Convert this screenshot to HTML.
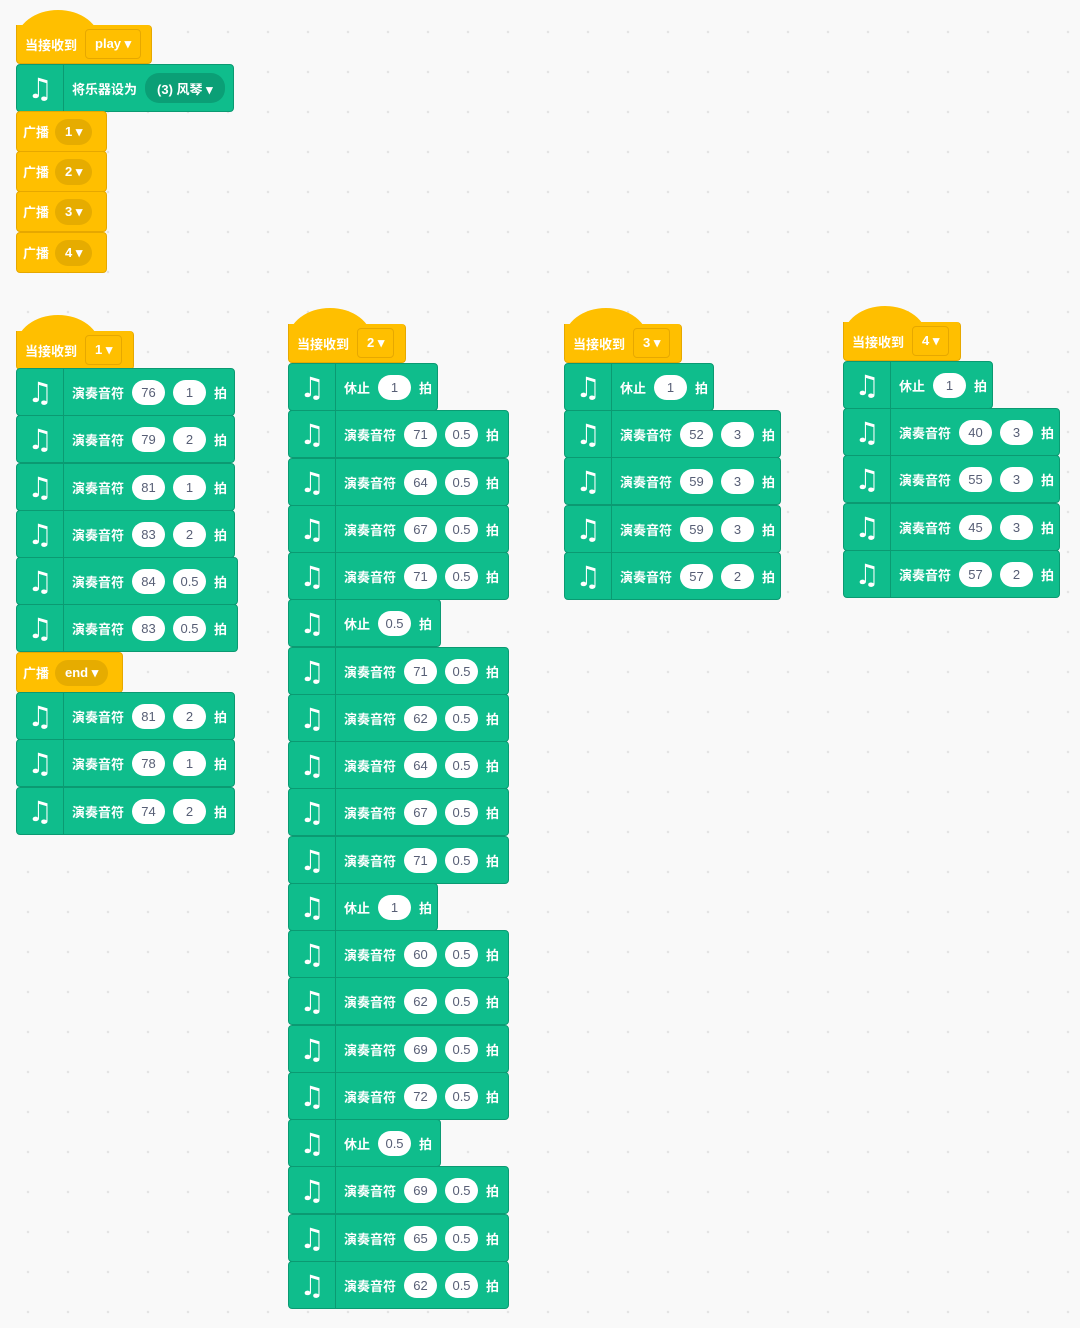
<!DOCTYPE html>
<html><head><meta charset="utf-8"><style>
html,body{margin:0;padding:0}
body{width:1080px;height:1328px;position:relative;overflow:hidden;background:#f9f9f9;background-image:radial-gradient(circle,#e4e4e4 1px,transparent 1.5px);background-size:40px 40px;background-position:8px 12px;font-family:"Liberation Sans","Noto Sans CJK SC",sans-serif;font-weight:bold;font-size:13px}
.g{position:absolute;height:46px;background:#0fbd8c;border:1px solid #0b9a72;border-radius:4px;display:flex;align-items:center;color:#fff;box-sizing:content-box}
.ic{width:46px;height:100%;border-right:1px solid #0b9a72;display:flex;align-items:center;justify-content:center;font-size:28px;font-weight:normal;font-family:"DejaVu Sans",sans-serif;flex:none}
.l{margin-left:8px;white-space:nowrap}
.p{margin-left:8px;background:#fff;color:#575e75;border-radius:13px;height:25px;min-width:33px;padding:0 4px;box-sizing:border-box;display:flex;align-items:center;justify-content:center;font-weight:normal;font-size:13px}
.b{margin-left:8px}
.y{position:absolute;height:39px;background:#ffbf00;border:1px solid #e6a800;border-radius:4px;display:flex;align-items:center;color:#fff}
.yd{margin-left:6px;background:#e6ac00;border-radius:13px;height:26px;padding:0 10px;display:flex;align-items:center;color:#fff}
.h{position:absolute;height:38px;background:#ffbf00;border:1px solid #e6a800;border-top:none;border-radius:0 4px 4px 4px;display:flex;align-items:center;color:#fff}
.cap{position:absolute;height:32px;background:#ffbf00;border-radius:50% 50% 0 0/100% 100% 0 0}
.hd{margin-left:8px;border:1px solid #e6a800;border-radius:4px;height:28px;padding:0 9px;display:flex;align-items:center}
.gd{margin-left:8px;background:#0b9f76;border-radius:14px;height:30px;padding:0 12px;display:flex;align-items:center}
</style></head><body>

<!-- top stack -->
<div class="cap" style="left:16px;top:10px;width:84px"></div>
<div class="h" style="left:16px;top:25px;width:134px"><span class="l">当接收到</span><span class="hd">play ▾</span></div>
<div class="g" style="left:16px;top:64px;width:216px"><span class="ic">♫</span><span class="l">将乐器设为</span><span class="gd">(3) 风琴 ▾</span></div>
<div class="y" style="left:16px;top:111px;width:89px"><span class="l" style="margin-left:6px">广播</span><span class="yd">1 ▾</span></div>
<div class="y" style="left:16px;top:151px;width:89px"><span class="l" style="margin-left:6px">广播</span><span class="yd">2 ▾</span></div>
<div class="y" style="left:16px;top:191px;width:89px"><span class="l" style="margin-left:6px">广播</span><span class="yd">3 ▾</span></div>
<div class="y" style="left:16px;top:232px;width:89px"><span class="l" style="margin-left:6px">广播</span><span class="yd">4 ▾</span></div>

<!-- column 1 -->
<div class="cap" style="left:16px;top:315px;width:84px"></div>
<div class="h" style="left:16px;top:331px;width:116px"><span class="l">当接收到</span><span class="hd">1 ▾</span></div>
<div class="g" style="left:16px;top:368px;width:217px"><span class="ic">♫</span><span class="l">演奏音符</span><span class="p">76</span><span class="p">1</span><span class="b">拍</span></div>
<div class="g" style="left:16px;top:415px;width:217px"><span class="ic">♫</span><span class="l">演奏音符</span><span class="p">79</span><span class="p">2</span><span class="b">拍</span></div>
<div class="g" style="left:16px;top:463px;width:217px"><span class="ic">♫</span><span class="l">演奏音符</span><span class="p">81</span><span class="p">1</span><span class="b">拍</span></div>
<div class="g" style="left:16px;top:510px;width:217px"><span class="ic">♫</span><span class="l">演奏音符</span><span class="p">83</span><span class="p">2</span><span class="b">拍</span></div>
<div class="g" style="left:16px;top:557px;width:220px"><span class="ic">♫</span><span class="l">演奏音符</span><span class="p">84</span><span class="p">0.5</span><span class="b">拍</span></div>
<div class="g" style="left:16px;top:604px;width:220px"><span class="ic">♫</span><span class="l">演奏音符</span><span class="p">83</span><span class="p">0.5</span><span class="b">拍</span></div>
<div class="y" style="left:16px;top:652px;width:105px"><span class="l" style="margin-left:6px">广播</span><span class="yd">end ▾</span></div>
<div class="g" style="left:16px;top:692px;width:217px"><span class="ic">♫</span><span class="l">演奏音符</span><span class="p">81</span><span class="p">2</span><span class="b">拍</span></div>
<div class="g" style="left:16px;top:739px;width:217px"><span class="ic">♫</span><span class="l">演奏音符</span><span class="p">78</span><span class="p">1</span><span class="b">拍</span></div>
<div class="g" style="left:16px;top:787px;width:217px"><span class="ic">♫</span><span class="l">演奏音符</span><span class="p">74</span><span class="p">2</span><span class="b">拍</span></div>

<!-- column 2 -->
<div class="cap" style="left:288px;top:308px;width:84px"></div>
<div class="h" style="left:288px;top:324px;width:116px"><span class="l">当接收到</span><span class="hd">2 ▾</span></div>
<div class="g" style="left:288px;top:363px;width:148px"><span class="ic">♫</span><span class="l">休止</span><span class="p">1</span><span class="b">拍</span></div>
<div class="g" style="left:288px;top:410px;width:219px"><span class="ic">♫</span><span class="l">演奏音符</span><span class="p">71</span><span class="p">0.5</span><span class="b">拍</span></div>
<div class="g" style="left:288px;top:458px;width:219px"><span class="ic">♫</span><span class="l">演奏音符</span><span class="p">64</span><span class="p">0.5</span><span class="b">拍</span></div>
<div class="g" style="left:288px;top:505px;width:219px"><span class="ic">♫</span><span class="l">演奏音符</span><span class="p">67</span><span class="p">0.5</span><span class="b">拍</span></div>
<div class="g" style="left:288px;top:552px;width:219px"><span class="ic">♫</span><span class="l">演奏音符</span><span class="p">71</span><span class="p">0.5</span><span class="b">拍</span></div>
<div class="g" style="left:288px;top:599px;width:151px"><span class="ic">♫</span><span class="l">休止</span><span class="p">0.5</span><span class="b">拍</span></div>
<div class="g" style="left:288px;top:647px;width:219px"><span class="ic">♫</span><span class="l">演奏音符</span><span class="p">71</span><span class="p">0.5</span><span class="b">拍</span></div>
<div class="g" style="left:288px;top:694px;width:219px"><span class="ic">♫</span><span class="l">演奏音符</span><span class="p">62</span><span class="p">0.5</span><span class="b">拍</span></div>
<div class="g" style="left:288px;top:741px;width:219px"><span class="ic">♫</span><span class="l">演奏音符</span><span class="p">64</span><span class="p">0.5</span><span class="b">拍</span></div>
<div class="g" style="left:288px;top:788px;width:219px"><span class="ic">♫</span><span class="l">演奏音符</span><span class="p">67</span><span class="p">0.5</span><span class="b">拍</span></div>
<div class="g" style="left:288px;top:836px;width:219px"><span class="ic">♫</span><span class="l">演奏音符</span><span class="p">71</span><span class="p">0.5</span><span class="b">拍</span></div>
<div class="g" style="left:288px;top:883px;width:148px"><span class="ic">♫</span><span class="l">休止</span><span class="p">1</span><span class="b">拍</span></div>
<div class="g" style="left:288px;top:930px;width:219px"><span class="ic">♫</span><span class="l">演奏音符</span><span class="p">60</span><span class="p">0.5</span><span class="b">拍</span></div>
<div class="g" style="left:288px;top:977px;width:219px"><span class="ic">♫</span><span class="l">演奏音符</span><span class="p">62</span><span class="p">0.5</span><span class="b">拍</span></div>
<div class="g" style="left:288px;top:1025px;width:219px"><span class="ic">♫</span><span class="l">演奏音符</span><span class="p">69</span><span class="p">0.5</span><span class="b">拍</span></div>
<div class="g" style="left:288px;top:1072px;width:219px"><span class="ic">♫</span><span class="l">演奏音符</span><span class="p">72</span><span class="p">0.5</span><span class="b">拍</span></div>
<div class="g" style="left:288px;top:1119px;width:151px"><span class="ic">♫</span><span class="l">休止</span><span class="p">0.5</span><span class="b">拍</span></div>
<div class="g" style="left:288px;top:1166px;width:219px"><span class="ic">♫</span><span class="l">演奏音符</span><span class="p">69</span><span class="p">0.5</span><span class="b">拍</span></div>
<div class="g" style="left:288px;top:1214px;width:219px"><span class="ic">♫</span><span class="l">演奏音符</span><span class="p">65</span><span class="p">0.5</span><span class="b">拍</span></div>
<div class="g" style="left:288px;top:1261px;width:219px"><span class="ic">♫</span><span class="l">演奏音符</span><span class="p">62</span><span class="p">0.5</span><span class="b">拍</span></div>

<!-- column 3 -->
<div class="cap" style="left:564px;top:308px;width:84px"></div>
<div class="h" style="left:564px;top:324px;width:116px"><span class="l">当接收到</span><span class="hd">3 ▾</span></div>
<div class="g" style="left:564px;top:363px;width:148px"><span class="ic">♫</span><span class="l">休止</span><span class="p">1</span><span class="b">拍</span></div>
<div class="g" style="left:564px;top:410px;width:215px"><span class="ic">♫</span><span class="l">演奏音符</span><span class="p">52</span><span class="p">3</span><span class="b">拍</span></div>
<div class="g" style="left:564px;top:457px;width:215px"><span class="ic">♫</span><span class="l">演奏音符</span><span class="p">59</span><span class="p">3</span><span class="b">拍</span></div>
<div class="g" style="left:564px;top:505px;width:215px"><span class="ic">♫</span><span class="l">演奏音符</span><span class="p">59</span><span class="p">3</span><span class="b">拍</span></div>
<div class="g" style="left:564px;top:552px;width:215px"><span class="ic">♫</span><span class="l">演奏音符</span><span class="p">57</span><span class="p">2</span><span class="b">拍</span></div>

<!-- column 4 -->
<div class="cap" style="left:843px;top:306px;width:84px"></div>
<div class="h" style="left:843px;top:322px;width:116px"><span class="l">当接收到</span><span class="hd">4 ▾</span></div>
<div class="g" style="left:843px;top:361px;width:148px"><span class="ic">♫</span><span class="l">休止</span><span class="p">1</span><span class="b">拍</span></div>
<div class="g" style="left:843px;top:408px;width:215px"><span class="ic">♫</span><span class="l">演奏音符</span><span class="p">40</span><span class="p">3</span><span class="b">拍</span></div>
<div class="g" style="left:843px;top:455px;width:215px"><span class="ic">♫</span><span class="l">演奏音符</span><span class="p">55</span><span class="p">3</span><span class="b">拍</span></div>
<div class="g" style="left:843px;top:503px;width:215px"><span class="ic">♫</span><span class="l">演奏音符</span><span class="p">45</span><span class="p">3</span><span class="b">拍</span></div>
<div class="g" style="left:843px;top:550px;width:215px"><span class="ic">♫</span><span class="l">演奏音符</span><span class="p">57</span><span class="p">2</span><span class="b">拍</span></div>

</body></html>
